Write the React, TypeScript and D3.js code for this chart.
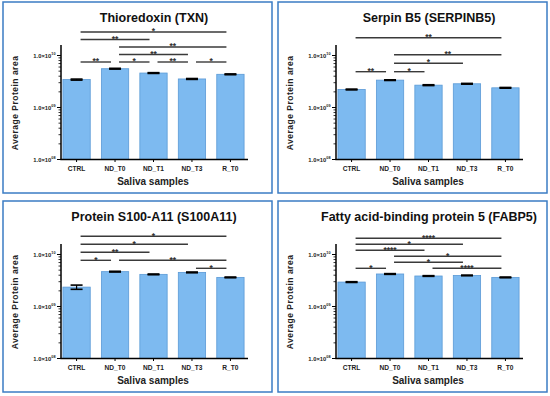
import React from "react";
import * as d3 from "d3";

const categories = ["CTRL", "ND_T0", "ND_T1", "ND_T3", "R_T0"];
const titles = [
  "Thioredoxin (TXN)",
  "Serpin B5 (SERPINB5)",
  "Protein S100-A11 (S100A11)",
  "Fatty acid-binding protein 5 (FABP5)",
];
const txnValues = [3.44e9, 5.57e9, 4.6e9, 3.54e9, 4.35e9];
const serpinValues = [2.22e9, 3.36e9, 2.69e9, 2.86e9, 2.39e9];
const s100Values = [2.36e9, 4.68e9, 4.15e9, 4.53e9, 3.63e9];
const fabpValues = [2.95e9, 4.22e9, 3.86e9, 3.96e9, 3.63e9];
const txnErrors = [0.08e9, 0.1e9, 0.08e9, 0.07e9, 0.08e9];
const serpinErrors = [0.04e9, 0.05e9, 0.05e9, 0.05e9, 0.04e9];
const s100Errors = [0.22e9, 0.08e9, 0.07e9, 0.08e9, 0.06e9];
const fabpErrors = [0.05e9, 0.07e9, 0.06e9, 0.06e9, 0.06e9];
const yTickExponents = [8, 9, 10];
// brackets: [fromIndex, toIndex, label, level]
const txnBrackets: [number, number, string, number][] = [
  [0, 1, "**", 0], [1, 2, "*", 0], [2, 3, "**", 0], [3, 4, "*", 0],
  [1, 3, "**", 1], [1, 4, "**", 2], [0, 2, "**", 3], [0, 4, "*", 4],
];
const serpinBrackets: [number, number, string, number][] = [
  [0, 1, "**", 0], [1, 2, "*", 0], [1, 3, "*", 1], [1, 4, "**", 2], [0, 4, "**", 4],
];
const s100Brackets: [number, number, string, number][] = [
  [3, 4, "*", 0], [0, 1, "*", 1], [1, 4, "**", 1], [0, 2, "**", 2], [0, 3, "*", 3], [0, 4, "*", 4],
];
const fabpBrackets: [number, number, string, number][] = [
  [0, 1, "*", 0], [2, 4, "****", 0], [1, 3, "*", 1], [1, 4, "*", 2],
  [0, 2, "****", 3], [0, 3, "*", 4], [0, 4, "****", 5],
];

const panels = [
  { title: titles[0], values: txnValues, errors: txnErrors, brackets: txnBrackets, ox: 0, oy: 0, base: 62, step: 7.5 },
  { title: titles[1], values: serpinValues, errors: serpinErrors, brackets: serpinBrackets, ox: 275, oy: 0, base: 71.7, step: 8.5 },
  { title: titles[2], values: s100Values, errors: s100Errors, brackets: s100Brackets, ox: 0, oy: 199, base: 69.3, step: 8 },
  { title: titles[3], values: fabpValues, errors: fabpErrors, brackets: fabpBrackets, ox: 275, oy: 199, base: 69.3, step: 6 },
];

const FONT = "Arial, 'Liberation Sans', sans-serif";

function Panel({ p }: { p: (typeof panels)[number] }) {
  const x = d3.scaleBand<string>().domain(categories).range([61, 246]).paddingInner(0.29).paddingOuter(0.05);
  const y = d3.scaleLog().domain([1e8, 1e10]).range([159.5, 55.5]);
  const yTop = y(Math.pow(10, 10.2));
  const bw = x.bandwidth();
  const cx = (c: string) => (x(c) as number) + bw / 2;
  const minor: number[] = [];
  for (let dexp = 8; dexp < 10; dexp++) for (let k = 2; k <= 9; k++) minor.push(k * Math.pow(10, dexp));
  return (
    <g transform={`translate(${p.ox},${p.oy})`}>
      <rect x={3} y={2} width={269} height={191} fill="white" stroke="#3b7cc4" strokeWidth={1.5} />
      <text x={154} y={22} textAnchor="middle" fontFamily={FONT} fontWeight="bold" fontSize={12.5} fill="#111">
        {p.title}
      </text>
      {categories.map((c, i) => {
        const v = p.values[i];
        const e = p.errors[i];
        const xc = cx(c);
        return (
          <g key={c}>
            <rect x={x(c)} y={y(v)} width={bw} height={y(1e8) - y(v)} fill="#7dbaf0" stroke="#5b9ad6" strokeWidth={0.8} />
            <line x1={xc} x2={xc} y1={y(v - e)} y2={y(v + e)} stroke="#000" strokeWidth={1.2} />
            <line x1={xc - 6} x2={xc + 6} y1={y(v + e)} y2={y(v + e)} stroke="#000" strokeWidth={1.6} />
            <line x1={xc - 6} x2={xc + 6} y1={y(v - e)} y2={y(v - e)} stroke="#000" strokeWidth={1.6} />
            <line x1={xc} x2={xc} y1={y(1e8)} y2={y(1e8) + 2.5} stroke="#000" strokeWidth={1} />
            <text x={xc} y={170.5} textAnchor="middle" fontFamily={FONT} fontWeight="bold" fontSize={6.6} fill="#222">
              {c}
            </text>
          </g>
        );
      })}
      <line x1={61} x2={61} y1={yTop} y2={y(1e8)} stroke="#000" strokeWidth={1.5} />
      <line x1={60.3} x2={248} y1={y(1e8)} y2={y(1e8)} stroke="#000" strokeWidth={1.5} />
      {minor.map((m) => (
        <line key={m} x1={58.5} x2={61} y1={y(m)} y2={y(m)} stroke="#000" strokeWidth={0.8} />
      ))}
      {yTickExponents.map((ex) => {
        const v = Math.pow(10, ex);
        return (
          <g key={ex}>
            <line x1={57} x2={61} y1={y(v)} y2={y(v)} stroke="#000" strokeWidth={1} />
            <text x={55.5} y={y(v) + 2} textAnchor="end" fontFamily={FONT} fontWeight="bold" fontSize={5.8} fill="#222">
              1.0×10
              <tspan fontSize={3.8} dy={-2.6}>{String(ex).padStart(2, "0")}</tspan>
            </text>
          </g>
        );
      })}
      {p.brackets.map(([a, b, lab, lev], i) => {
        const yy = p.base - lev * p.step;
        const x1 = cx(categories[a]) + 4;
        const x2 = cx(categories[b]) - 4;
        return (
          <g key={i}>
            <line x1={x1} x2={x2} y1={yy} y2={yy} stroke="#3a3a3a" strokeWidth={1.4} />
            <text x={(x1 + x2) / 2} y={yy + 2.2} textAnchor="middle" fontFamily={FONT} fontWeight="bold" fontSize={8.5} fill="#333">
              {lab}
            </text>
          </g>
        );
      })}
      <text
        transform={`translate(17.5,103) rotate(-90)`}
        textAnchor="middle"
        fontFamily={FONT}
        fontWeight="bold"
        fontSize={8.5}
        letterSpacing={0.5}
        fill="#222"
      >
        Average Protein area
      </text>
      <text x={153} y={185} textAnchor="middle" fontFamily={FONT} fontWeight="bold" fontSize={10} fill="#222">
        Saliva samples
      </text>
    </g>
  );
}

export default function App() {
  return (
    <svg width={550} height={396} style={{ position: "absolute", left: 0, top: 0, background: "white" }}>
      <rect width={550} height={396} fill="white" />
      {panels.map((p) => (
        <Panel key={p.title} p={p} />
      ))}
    </svg>
  );
}
